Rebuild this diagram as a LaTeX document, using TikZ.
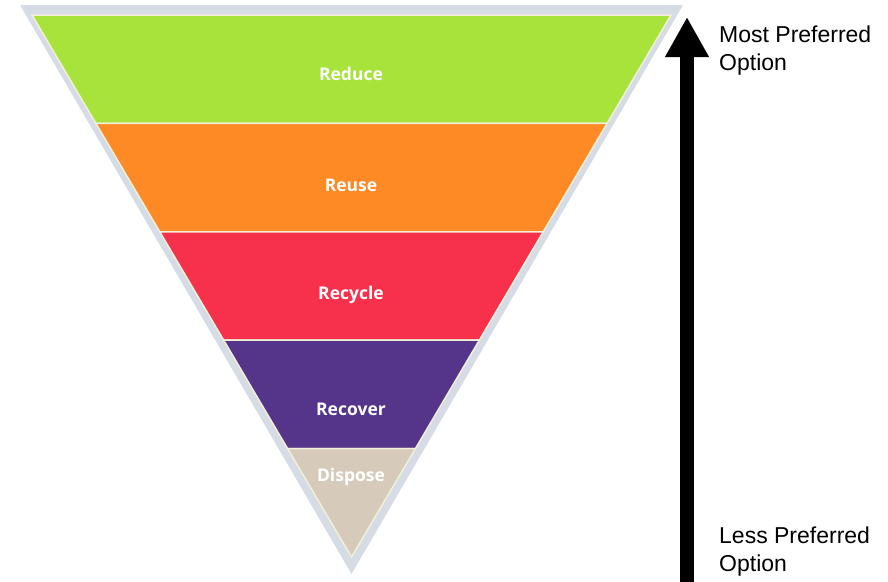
\documentclass[tikz,border=0pt]{standalone}
\usepackage{fontspec}
\setmainfont{Liberation Sans}
\newfontfamily\labfont{Open Sans}
\usetikzlibrary{arrows.meta,calc,positioning}
\definecolor{rim}{HTML}{D6DCE5}
\definecolor{bandline}{HTML}{F2EFD9}
\definecolor{reduceg}{HTML}{A8E33C}
\definecolor{reuseo}{HTML}{FE8A26}
\definecolor{recycler}{HTML}{F7304B}
\definecolor{recoverp}{HTML}{55358A}
\definecolor{disposeb}{HTML}{D6CBBB}

\begin{document}
\begin{tikzpicture}[x=1pt, y=-1pt, band/.style={draw=bandline, line width=1.5pt}, lab/.style={font=\labfont\bfseries\fontsize{17.5}{20}\selectfont, text=white}, side/.style={font=\fontsize{23}{28}\selectfont, align=left, anchor=north west, inner sep=0pt}]
\useasboundingbox (0,0) rectangle (888,581);

% grey rim of the funnel
\fill[rim] (20,5) -- (683,5) -- (351.5,574) -- cycle;

\coordinate (tl) at (32,15);
\coordinate (tr) at (671,15);
\coordinate (ap) at (351.5,557);
\foreach \c [count=\i from 0] in {reduceg, reuseo, recycler, recoverp, disposeb} {
  \pgfmathsetmacro\a{\i/5}
  \pgfmathsetmacro\b{(\i+1)/5}
  \filldraw[band, fill=\c] ($(tl)!\a!(ap)$) -- ($(tr)!\a!(ap)$) -- ($(tr)!\b!(ap)$) -- ($(tl)!\b!(ap)$) -- cycle;
}

\node[lab] (reduce) at (351,74) {Reduce};
\node[lab] (reuse) at (351,185) {Reuse};
\node[lab] (recycle) at (351,295) {Recycle};
\node[lab] (recover) at (351,409) {Recover};
\node[lab] (dispose) at (351,477) {Dispose};

% preference arrow
\coordinate (low) at (687,600);
\coordinate (high) at (687,17);
\draw[line width=14pt, -{Triangle[width=41pt,length=40pt]}] (low) -- (high);

\node[side] (most) at (719,26) {Most Preferred\\Option};
\node[side] (less) at (719,527) {Less Preferred\\Option};
\end{tikzpicture}
\end{document}
